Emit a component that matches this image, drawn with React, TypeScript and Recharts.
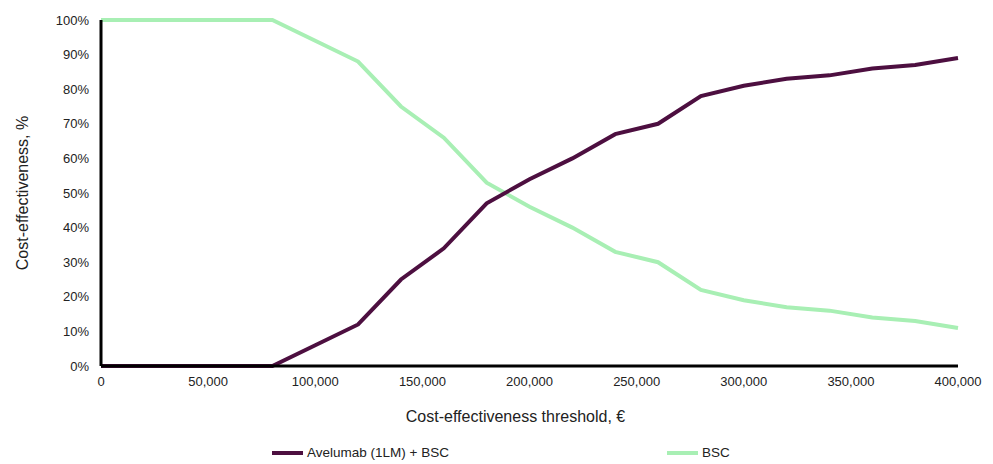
import React from 'react';
import { LineChart, Line, XAxis, YAxis, Legend, Label } from 'recharts';

const thresholds = [0, 20000, 40000, 60000, 80000, 100000, 120000, 140000, 160000, 180000, 200000, 220000, 240000, 260000, 280000, 300000, 320000, 340000, 360000, 380000, 400000];
const avelumab = [0, 0, 0, 0, 0, 6, 12, 25, 34, 47, 54, 60, 67, 70, 78, 81, 83, 84, 86, 87, 89];
const bsc = [100, 100, 100, 100, 100, 94, 88, 75, 66, 53, 46, 40, 33, 30, 22, 19, 17, 16, 14, 13, 11];
const xTicks = [0, 50000, 100000, 150000, 200000, 250000, 300000, 350000, 400000];
const yTicks = [0, 10, 20, 30, 40, 50, 60, 70, 80, 90, 100];

const data = thresholds.map((t, i) => ({ t, avelumab: avelumab[i], bsc: bsc[i] }));

const PURPLE = '#4d0f40';
const GREEN = '#a8efb4';
const FONT = '"Liberation Sans", Arial, sans-serif';

const LegendBox = () => (
  <div style={{ position: 'relative', height: 34, fontFamily: FONT, fontSize: 13.5, color: '#222' }}>
    <div style={{ position: 'absolute', left: 272, top: 15, display: 'flex', alignItems: 'center' }}>
      <span style={{ width: 31, height: 4, background: PURPLE, marginRight: 4 }} />
      <span>Avelumab (1LM) + BSC</span>
    </div>
    <div style={{ position: 'absolute', left: 667, top: 15, display: 'flex', alignItems: 'center' }}>
      <span style={{ width: 31, height: 4, background: GREEN, marginRight: 4 }} />
      <span>BSC</span>
    </div>
  </div>
);

const App = () => {
  return (
    <div style={{ position: 'absolute', left: 0, top: 0, width: 993, height: 464, background: '#fff' }}>
      <LineChart width={993} height={464} data={data} margin={{ top: 20, right: 35, left: 0, bottom: 0 }}>
        <XAxis
          dataKey="t"
          type="number"
          domain={[0, 400000]}
          ticks={xTicks}
          tickFormatter={(v: number) => v.toLocaleString('en-US')}
          tickLine={false}
          tickSize={0}
          tickMargin={11}
          height={64}
          axisLine={{ stroke: '#000', strokeWidth: 3 }}
          tick={{ fill: '#222', fontSize: 13, fontFamily: FONT }}
        >
          <Label value="Cost-effectiveness threshold, €" position="insideBottom" offset={8} dx={-14} style={{ fill: '#222', fontSize: 16, fontFamily: FONT }} />
        </XAxis>
        <YAxis
          type="number"
          domain={[0, 100]}
          ticks={yTicks}
          tickFormatter={(v: number) => `${v}%`}
          tickLine={false}
          tickSize={0}
          tickMargin={12}
          width={101}
          axisLine={{ stroke: '#000', strokeWidth: 3 }}
          tick={{ fill: '#222', fontSize: 13, fontFamily: FONT }}
        >
          <Label value="Cost-effectiveness, %" angle={-90} position="insideLeft" offset={22} style={{ textAnchor: 'middle', fill: '#222', fontSize: 16, fontFamily: FONT }} />
        </YAxis>
        <Legend verticalAlign="bottom" height={34} content={() => <LegendBox />} />
        <Line type="linear" dataKey="bsc" stroke={GREEN} strokeWidth={4} dot={false} isAnimationActive={false} />
        <Line type="linear" dataKey="avelumab" stroke={PURPLE} strokeWidth={4} dot={false} isAnimationActive={false} />
      </LineChart>
    </div>
  );
};

export default App;
